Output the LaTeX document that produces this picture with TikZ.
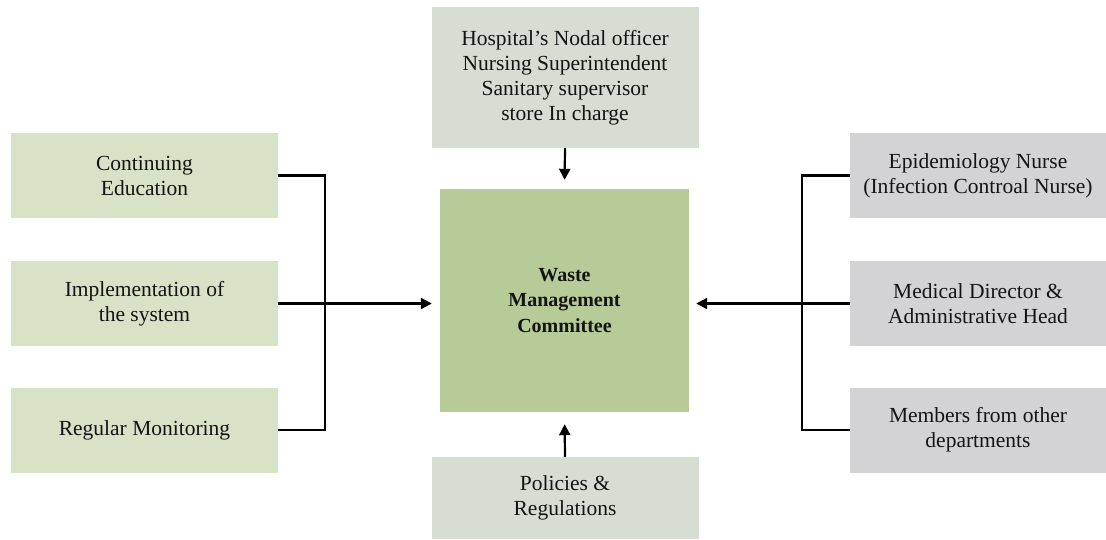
\documentclass[tikz,border=0pt]{standalone}
\usepackage{fontspec}
\setmainfont{Liberation Serif}
\usetikzlibrary{arrows.meta}
\definecolor{leftg}{HTML}{D8E2C6}
\definecolor{rightg}{HTML}{D3D3D5}
\definecolor{topg}{HTML}{D7DDD3}
\definecolor{centerg}{HTML}{B7CB99}
\tikzset{
  box/.style={rectangle, inner sep=0pt, align=center, font=\fontsize{21.5}{25}\selectfont, text=black!92},
  lbox/.style={box, fill=leftg, minimum width=267pt, minimum height=85pt},
  rbox/.style={box, fill=rightg, minimum width=256pt, minimum height=85pt},
  tbox/.style={box, fill=topg, minimum width=267pt},
  cbox/.style={box, fill=centerg, minimum width=249pt, minimum height=223pt, font=\fontsize{20}{25.5}\selectfont\bfseries},
  conn/.style={line width=2.2pt, black},
  arr/.style={conn, -{Triangle[length=11pt,width=11pt]}}
}
\begin{document}
\begin{tikzpicture}[x=1pt,y=-1pt]
\useasboundingbox (0,0) rectangle (1106,539);
\node[tbox, minimum height=141pt] (top) at (565,77.5) {Hospital’s Nodal officer\\Nursing Superintendent\\Sanitary supervisor\\store In charge};
\node[cbox] (c) at (564.5,300.5) {Waste\\Management\\Committee};
\node[tbox, minimum height=82pt] (bot) at (565,498) {Policies \&\\Regulations};
\node[lbox] (l1) at (144.5,175.5) {Continuing\\Education};
\node[lbox] (l2) at (144.5,303.5) {Implementation of\\the system};
\node[lbox] (l3) at (144.5,430) {Regular Monitoring};
\node[rbox] (r1) at (978,175.5) {Epidemiology Nurse\\(Infection Controal Nurse)};
\node[rbox] (r2) at (978,303.5) {Medical Director \&\\Administrative Head};
\node[rbox] (r3) at (978,430) {Members from other\\departments};
\coordinate (lj) at (325,303.5);
\coordinate (rj) at (802,303.5);
\draw[conn] (l1.east) -| (lj);
\draw[conn] (l3.east) -| (lj);
\draw[arr, shorten >=8pt] (l2.east) -- (c.west |- l2.east);
\draw[conn] (r1.west) -| (rj);
\draw[conn] (r3.west) -| (rj);
\draw[arr, shorten >=7pt] (r2.west) -- (c.east |- r2.west);
\draw[arr, shorten >=9pt] (top.south) -- (c.north);
\draw[arr, shorten >=12pt] (bot.north) -- (c.south);
\end{tikzpicture}
\end{document}
